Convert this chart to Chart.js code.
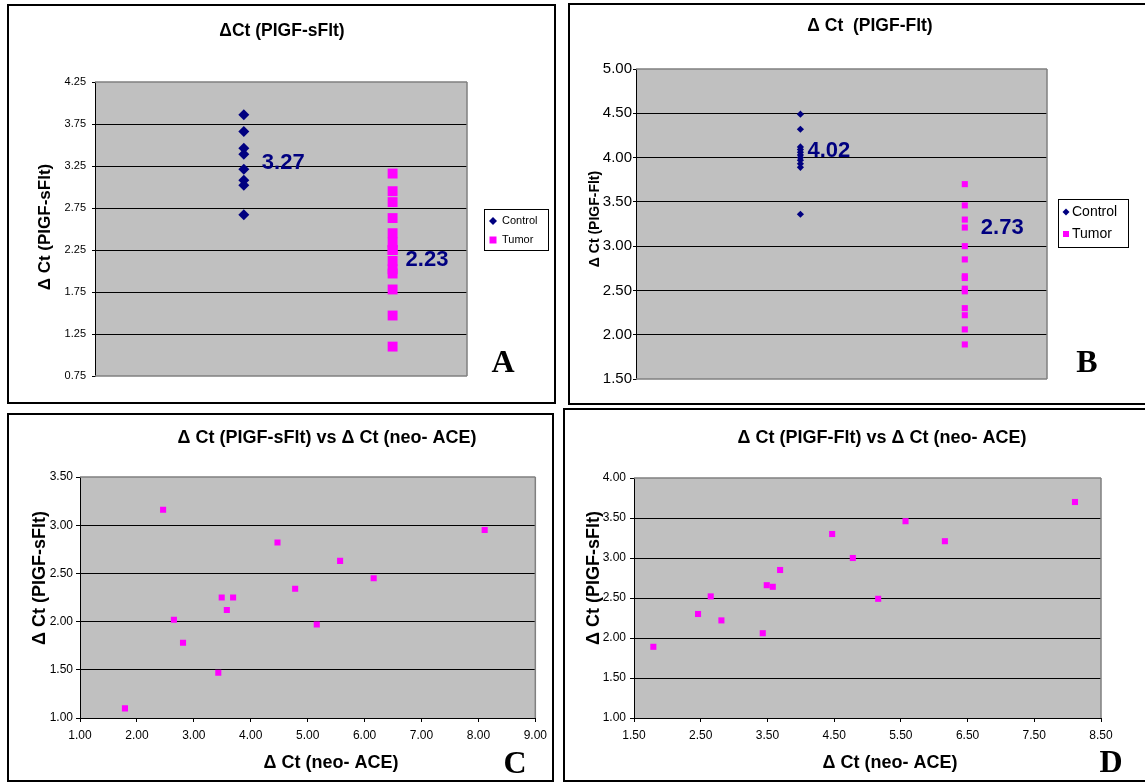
<!DOCTYPE html>
<html>
<head>
<meta charset="utf-8">
<script src="https://cdn.jsdelivr.net/npm/chart.js@4.4.0/dist/chart.umd.min.js"></script>
<style>
    html, body { margin: 0; padding: 0; background: #fff; width: 1145px; height: 782px; overflow: hidden; position: relative; }
    canvas { position: absolute; }
    .frame { position: absolute; border: 2px solid #000; box-sizing: border-box; pointer-events: none; }
</style>
</head>
<body>
<canvas id="chartA"></canvas>
<canvas id="chartB"></canvas>
<canvas id="chartC"></canvas>
<canvas id="chartD"></canvas>
<script>
// --- data ---
const groups = ['Control', 'Tumor'];
const groupX = [1, 2];

// panel A / C : dCt (PlGF-sFlt)
const controlSflt = [3.86, 3.66, 3.46, 3.39, 3.21, 3.08, 3.02, 2.67];
const tumorSflt = [1.10, 3.16, 2.02, 1.78, 1.47, 2.25, 2.12, 2.25, 2.82, 2.34, 1.97, 2.63, 2.45, 2.95];
const meanSflt = [3.27, 2.23];

// panel B / D : dCt (PlGF-Flt)
const controlFlt = [4.49, 4.32, 4.12, 4.09, 4.06, 4.03, 4.00, 3.97, 3.93, 3.89, 3.36];
const tumorFlt = [1.89, 2.30, 2.52, 2.22, 2.06, 2.66, 2.64, 2.85, 3.30, 3.00, 2.49, 3.46, 3.21, 3.70];
const meanFlt = [4.02, 2.73];

// dCt (neo-ACE), same tumour order as tumorSflt / tumorFlt
const neoAce = [1.79, 2.46, 2.65, 2.81, 3.43, 3.49, 3.58, 3.69, 4.47, 4.78, 5.16, 5.57, 6.16, 8.11];

// tick labels
const yTicksA = [0.75, 1.25, 1.75, 2.25, 2.75, 3.25, 3.75, 4.25];
const yTicksB = [1.50, 2.00, 2.50, 3.00, 3.50, 4.00, 4.50, 5.00];
const yTicksC = [1.00, 1.50, 2.00, 2.50, 3.00, 3.50];
const xTicksC = [1, 2, 3, 4, 5, 6, 7, 8, 9];
const yTicksD = [1.00, 1.50, 2.00, 2.50, 3.00, 3.50, 4.00];
const xTicksD = [1.5, 2.5, 3.5, 4.5, 5.5, 6.5, 7.5, 8.5];
const groupRange = [0, 2.5];

// --- layout (page pixels) ---
const SANS = '"Liberation Sans", Arial, sans-serif';
const SERIF = '"Liberation Serif", "Times New Roman", serif';
const NAVY = '#000080';
const MAGENTA = '#ff00ff';

const layout = {
    chartA: { box: [8, 5, 555, 403], plot: [95, 82, 467, 376], frame: [7, 4, 556, 404] },
    chartB: { box: [569, 4, 1152, 404], plot: [636, 69, 1047, 379], frame: [568, 3, 1152, 405] },
    chartC: { box: [8, 414, 553, 782], plot: [80, 477, 538, 718], frame: [7, 413, 554, 782] },
    chartD: { box: [564, 409, 1152, 782], plot: [634, 478, 1101, 718], frame: [563, 408, 1152, 782] }
};

const decor = {
    chartA: {
        texts: [
            { t: 'ΔCt (PIGF-sFlt)', x: 282, y: 31, font: 'bold 17.5px ' + SANS },
            { t: 'Δ Ct (PIGF-sFlt)', x: 45, y: 227, font: 'bold 17px ' + SANS, rot: true },
            { t: 'A', x: 503, y: 372, font: 'bold 32px ' + SERIF, base: 'alphabetic' }
        ],
        legend: { box: [484, 209, 548, 250], rows: [221, 240], mx: 493, tx: 502, font: '11px ' + SANS, dia: 4, sq: 3.5 },
        means: { values: meanSflt, dx: [18, 13], dy: [-1, 8], font: 'bold 22px ' + SANS },
        frameSides: ['top', 'right', 'bottom']
    },
    chartB: {
        texts: [
            { t: 'Δ Ct  (PIGF-Flt)', x: 870, y: 26, font: 'bold 17.5px ' + SANS },
            { t: 'Δ Ct (PIGF-Flt)', x: 595, y: 219, font: 'bold 14px ' + SANS, rot: true },
            { t: 'B', x: 1087, y: 372, font: 'bold 32px ' + SERIF, base: 'alphabetic' }
        ],
        legend: { box: [1058, 199, 1128, 247], rows: [212, 234], mx: 1066, tx: 1072, font: '14px ' + SANS, dia: 3.5, sq: 3 },
        means: { values: meanFlt, dx: [7, 16], dy: [-5, -42], font: 'bold 22px ' + SANS },
        frameSides: ['top', 'right', 'bottom']
    },
    chartC: {
        texts: [
            { t: 'Δ Ct (PIGF-sFlt) vs Δ Ct (neo- ACE)', x: 327, y: 438, font: 'bold 18px ' + SANS },
            { t: 'Δ Ct (neo- ACE)', x: 331, y: 763, font: 'bold 18px ' + SANS },
            { t: 'Δ Ct (PIGF-sFlt)', x: 40, y: 578, font: 'bold 18px ' + SANS, rot: true },
            { t: 'C', x: 515, y: 773, font: 'bold 32px ' + SERIF, base: 'alphabetic' }
        ],
        frameSides: ['top', 'right']
    },
    chartD: {
        texts: [
            { t: 'Δ Ct (PIGF-Flt) vs Δ Ct (neo- ACE)', x: 882, y: 438, font: 'bold 18px ' + SANS },
            { t: 'Δ Ct (neo- ACE)', x: 890, y: 763, font: 'bold 18px ' + SANS },
            { t: 'Δ Ct (PIGF-sFlt)', x: 594, y: 578, font: 'bold 18px ' + SANS, rot: true },
            { t: 'D', x: 1111, y: 772, font: 'bold 32px ' + SERIF, base: 'alphabetic' }
        ],
        frameSides: ['top', 'right']
    }
};

// gray plot background, gray plot frame, titles, legend, mean labels
const decorPlugin = {
    id: 'decor',
    beforeDraw(chart) {
        const { ctx, chartArea: a } = chart;
        ctx.save();
        ctx.fillStyle = '#c0c0c0';
        ctx.fillRect(a.left, a.top, a.right - a.left, a.bottom - a.top);
        ctx.restore();
    },
    beforeDatasetsDraw(chart) {
        const d = decor[chart.canvas.id];
        const { ctx, chartArea: a } = chart;
        ctx.save();
        ctx.strokeStyle = '#808080';
        ctx.lineWidth = 1.5;
        ctx.beginPath();
        if (d.frameSides.includes('top')) { ctx.moveTo(a.left, a.top); ctx.lineTo(a.right, a.top); }
        if (d.frameSides.includes('right')) { ctx.moveTo(a.right, a.top); ctx.lineTo(a.right, a.bottom); }
        if (d.frameSides.includes('bottom')) { ctx.moveTo(a.left, a.bottom); ctx.lineTo(a.right, a.bottom); }
        ctx.stroke();
        ctx.restore();
    },
    afterDraw(chart) {
        const id = chart.canvas.id;
        const d = decor[id];
        const [ox, oy] = layout[id].box;
        const ctx = chart.ctx;
        ctx.save();
        ctx.fillStyle = '#000';
        d.texts.forEach(item => {
            ctx.font = item.font;
            ctx.textAlign = 'center';
            ctx.textBaseline = item.base || 'middle';
            ctx.save();
            ctx.translate(item.x - ox, item.y - oy);
            if (item.rot) ctx.rotate(-Math.PI / 2);
            ctx.fillText(item.t, 0, 0);
            ctx.restore();
        });

        if (d.legend) {
            const lg = d.legend;
            ctx.fillStyle = '#fff';
            ctx.fillRect(lg.box[0] - ox, lg.box[1] - oy, lg.box[2] - lg.box[0], lg.box[3] - lg.box[1]);
            ctx.strokeStyle = '#000';
            ctx.lineWidth = 1;
            ctx.strokeRect(lg.box[0] - ox + 0.5, lg.box[1] - oy + 0.5, lg.box[2] - lg.box[0], lg.box[3] - lg.box[1]);
            groups.forEach((name, i) => {
                const mx = lg.mx - ox;
                const my = lg.rows[i] - oy;
                if (i === 0) {
                    ctx.fillStyle = NAVY;
                    ctx.beginPath();
                    ctx.moveTo(mx, my - lg.dia);
                    ctx.lineTo(mx + lg.dia, my);
                    ctx.lineTo(mx, my + lg.dia);
                    ctx.lineTo(mx - lg.dia, my);
                    ctx.closePath();
                    ctx.fill();
                } else {
                    ctx.fillStyle = MAGENTA;
                    ctx.fillRect(mx - lg.sq, my - lg.sq, lg.sq * 2, lg.sq * 2);
                }
                ctx.fillStyle = '#000';
                ctx.font = lg.font;
                ctx.textAlign = 'left';
                ctx.textBaseline = 'middle';
                ctx.fillText(name, lg.tx - ox, my);
            });
        }

        if (d.means) {
            const m = d.means;
            ctx.fillStyle = NAVY;
            ctx.font = m.font;
            ctx.textAlign = 'left';
            ctx.textBaseline = 'middle';
            m.values.forEach((v, i) => {
                const px = chart.scales.x.getPixelForValue(groupX[i]) + m.dx[i];
                const py = chart.scales.y.getPixelForValue(v) + m.dy[i];
                ctx.fillText(v.toFixed(2), px, py);
            });
        }
        ctx.restore();
    }
};

function edgeGrid(ticks) {
    return function (c) {
        if (!c.tick) return '#000';
        const v = c.tick.value;
        return (v === ticks[0] || v === ticks[ticks.length - 1]) ? 'rgba(0,0,0,0)' : '#000';
    };
}

function yScale(ticks, fontSize, tickLen, pad) {
    return {
        min: ticks[0],
        max: ticks[ticks.length - 1],
        afterBuildTicks: s => { s.ticks = ticks.map(v => ({ value: v })); },
        ticks: {
            autoSkip: false,
            color: '#000',
            padding: pad,
            font: { family: SANS, size: fontSize },
            callback: v => Number(v).toFixed(2)
        },
        grid: { color: edgeGrid(ticks), lineWidth: 1, tickLength: tickLen, tickColor: '#000' },
        border: { display: true, color: '#000', width: 1 }
    };
}

function xValueScale(ticks, fontSize) {
    return {
        type: 'linear',
        min: ticks[0],
        max: ticks[ticks.length - 1],
        afterBuildTicks: s => { s.ticks = ticks.map(v => ({ value: v })); },
        ticks: {
            autoSkip: false,
            maxRotation: 0,
            color: '#000',
            padding: 6,
            font: { family: SANS, size: fontSize },
            callback: v => Number(v).toFixed(2)
        },
        grid: { drawOnChartArea: false, tickLength: 4, tickColor: '#000' },
        border: { display: true, color: '#000', width: 1 }
    };
}

function makeChart(id, datasets, scales, hasXAxis) {
    const L = layout[id];
    const W = L.box[2] - L.box[0];
    const H = L.box[3] - L.box[1];
    const canvas = document.getElementById(id);
    canvas.width = W;
    canvas.height = H;
    canvas.style.left = L.box[0] + 'px';
    canvas.style.top = L.box[1] + 'px';

    const frame = document.createElement('div');
    frame.className = 'frame';
    frame.style.left = L.frame[0] + 'px';
    frame.style.top = L.frame[1] + 'px';
    frame.style.width = (L.frame[2] - L.frame[0]) + 'px';
    frame.style.height = (L.frame[3] - L.frame[1]) + 'px';
    document.body.appendChild(frame);

    const left = L.plot[0] - L.box[0];
    const top = L.plot[1] - L.box[1];
    const right = L.plot[2] - L.box[0];
    const bottom = L.plot[3] - L.box[1];

    scales.y.afterFit = s => { s.width = left; };
    if (hasXAxis) {
        scales.x.afterFit = s => { s.height = H - bottom; };
    }

    return new Chart(canvas.getContext('2d'), {
        type: 'scatter',
        data: { datasets: datasets },
        options: {
            responsive: false,
            animation: false,
            events: [],
            layout: { padding: { left: 0, top: top, right: W - right, bottom: hasXAxis ? 0 : H - bottom } },
            plugins: { legend: { display: false }, tooltip: { enabled: false }, title: { display: false } },
            scales: scales
        },
        plugins: [decorPlugin]
    });
}

function groupPoints(values, gi) {
    return values.map(v => ({ x: groupX[gi], y: v }));
}

function pairPoints(xs, ys) {
    return xs.map((x, i) => ({ x: x, y: ys[i] }));
}

const hiddenGroupAxis = { type: 'linear', display: false, min: groupRange[0], max: groupRange[1] };

// A
makeChart('chartA', [
    { label: groups[0], data: groupPoints(controlSflt, 0), pointStyle: 'rectRot', pointRadius: 5.5, backgroundColor: NAVY, borderWidth: 0 },
    { label: groups[1], data: groupPoints(tumorSflt, 1), pointStyle: 'rect', pointRadius: 7, backgroundColor: MAGENTA, borderWidth: 0 }
], { x: Object.assign({}, hiddenGroupAxis), y: yScale(yTicksA, 11, 3, 6) }, false);

// B
makeChart('chartB', [
    { label: groups[0], data: groupPoints(controlFlt, 0), pointStyle: 'rectRot', pointRadius: 3.6, backgroundColor: NAVY, borderWidth: 0 },
    { label: groups[1], data: groupPoints(tumorFlt, 1), pointStyle: 'rect', pointRadius: 4.3, backgroundColor: MAGENTA, borderWidth: 0 }
], { x: Object.assign({}, hiddenGroupAxis), y: yScale(yTicksB, 15, 3, 1) }, false);

// C
makeChart('chartC', [
    { label: groups[1], data: pairPoints(neoAce, tumorSflt), pointStyle: 'rect', pointRadius: 4.3, backgroundColor: MAGENTA, borderWidth: 0 }
], { x: xValueScale(xTicksC, 12), y: yScale(yTicksC, 12, 4, 3) }, true);

// D
makeChart('chartD', [
    { label: groups[1], data: pairPoints(neoAce, tumorFlt), pointStyle: 'rect', pointRadius: 4.3, backgroundColor: MAGENTA, borderWidth: 0 }
], { x: xValueScale(xTicksD, 12), y: yScale(yTicksD, 12, 4, 4) }, true);
</script>
</body>
</html>
